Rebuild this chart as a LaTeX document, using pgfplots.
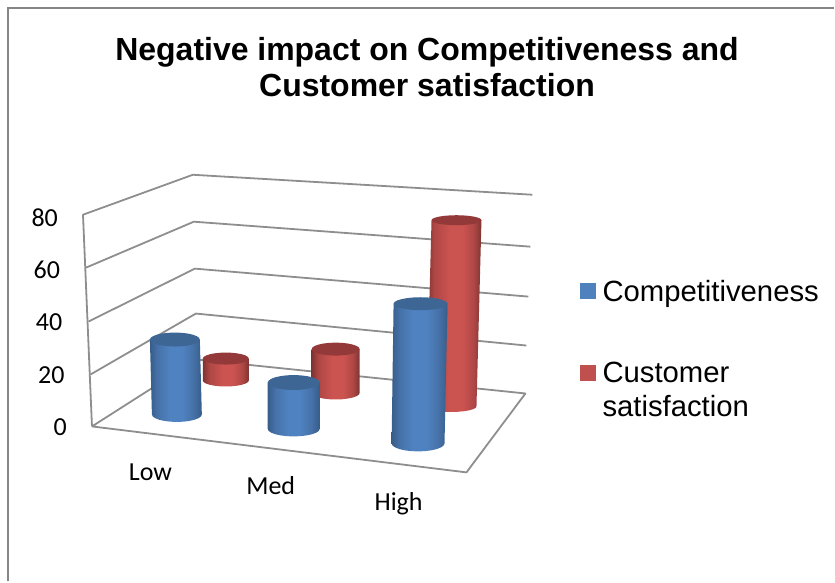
\documentclass[border=0pt]{standalone}
\usepackage{fontspec}
\usepackage{pgfplots}
\usepackage{pgfplotstable}
\pgfplotsset{compat=1.18}
\setmainfont{Liberation Sans}
\newfontfamily\calibri{Carlito}

\definecolor{frameGray}{HTML}{868686}
\definecolor{wallGray}{HTML}{8E8E8E}
\definecolor{blueEdge}{HTML}{375D88}
\definecolor{blueMid}{HTML}{4671A8}
\definecolor{blueLight}{HTML}{4F82C0}
\definecolor{blueCap}{HTML}{3E6695}
\definecolor{blueKey}{HTML}{4F81BD}
\definecolor{redEdge}{HTML}{7E3432}
\definecolor{redMid}{HTML}{AE4745}
\definecolor{redLight}{HTML}{CB5350}
\definecolor{redCap}{HTML}{93393A}
\definecolor{redKey}{HTML}{C0504D}

\pgfdeclarehorizontalshading{blueCylinder}{100bp}{color(0bp)=(blueEdge); color(25bp)=(blueEdge); color(32bp)=(blueMid); color(44bp)=(blueLight); color(56bp)=(blueLight); color(67bp)=(blueMid); color(75bp)=(blueEdge); color(100bp)=(blueEdge)}
\pgfdeclarehorizontalshading{redCylinder}{100bp}{color(0bp)=(redEdge); color(25bp)=(redEdge); color(32bp)=(redMid); color(46bp)=(redLight); color(58bp)=(redLight); color(68bp)=(redMid); color(75bp)=(redEdge); color(100bp)=(redEdge)}

% Cylinder side: lower half of the base ellipse, closed along the top rim.
% u, v are points on the unit ellipse, w is 0 at the base and 1 at the top.
\pgfplotstableread{
u v w
-1 0 1
-1 0 0
-0.966 -0.259 0
-0.866 -0.5 0
-0.707 -0.707 0
-0.5 -0.866 0
-0.259 -0.966 0
0 -1 0
0.259 -0.966 0
0.5 -0.866 0
0.707 -0.707 0
0.866 -0.5 0
0.966 -0.259 0
1 0 0
1 0 1
}\sideoutline

% Cylinder top: the complete unit ellipse.
\pgfplotstableread{
u v
1 0
0.966 0.259
0.866 0.5
0.707 0.707
0.5 0.866
0.259 0.966
0 1
-0.259 0.966
-0.5 0.866
-0.707 0.707
-0.866 0.5
-0.966 0.259
-1 0
-0.966 -0.259
-0.866 -0.5
-0.707 -0.707
-0.5 -0.866
-0.259 -0.966
0 -1
0.259 -0.966
0.5 -0.866
0.707 -0.707
0.866 -0.5
0.966 -0.259
}\capoutline

% Vertical position on the page grid to value units of the left wall edge.
\newcommand\Y[1]{(427-(#1))/2.625}

% #1 value, #2 page units per value at this depth, #3 base x, #4 base y, #5 top x,
% #6 base x radius, #7 top x radius, #8 base y radius, #9 top y radius,
% followed by the shading and the cap colour
\newcommand\cylinder[9]{\def\cylfinal##1##2{%
  \addplot[draw=none, shade, shading=##1] table[
    x expr={(1-\thisrow{w})*(#3+\thisrow{u}*#6)+\thisrow{w}*(#5+\thisrow{u}*#7)},
    y expr={\Y{#4-\thisrow{w}*#1*#2-\thisrow{v}*#8}}] {\sideoutline} -- cycle;
  \addplot[draw=none, fill=##2] table[
    x expr={#5+\thisrow{u}*#7},
    y expr={\Y{#4-#1*#2-\thisrow{v}*#9}}] {\capoutline} -- cycle;
}\cylfinal}

% Wall and floor rules, given as x and page y
\newcommand\wallrule[1]{\addplot[wallGray, line width=1.8pt, line join=round] table[row sep=\\, x=x, y expr={\Y{\thisrow{p}}}] {x p\\ #1};}

\begin{document}
\begin{tikzpicture}
\begin{axis}[
  scale only axis, width=835pt, height=582pt,
  xmin=0, xmax=835, ymin=-59.048, ymax=162.667,
  clip=false,
  axis line style={draw=none},
  xtick=\empty,
  ytick={0,20,40,60,80},
  major tick length=0pt,
  /pgf/number format/assume math mode=true,
  yticklabel style={font=\calibri\fontsize{26}{26}\selectfont, anchor=east, inner sep=0pt,
    xshift={(67-2.25*\ticknum)*1pt}, yshift=-1pt},
]
% chart frame
\addplot[frameGray, line width=2pt] table[row sep=\\, x=x, y expr={\Y{\thisrow{p}}}] {x p\\ 7.5 582\\ 7.5 8.5\\ 835 8.5\\};

% side wall, back wall and floor
\wallrule{92 427\\ 83 215\\ 193 175\\ 533 195\\}
\wallrule{86 268\\ 194 222\\ 531 247\\}
\wallrule{88.5 322\\ 195 269\\ 529 297\\}
\wallrule{90.5 375\\ 196 314\\ 527 346\\}
\wallrule{92 427\\ 197 360\\ 526 394\\ 467 473\\ 92 427\\}

% Customer satisfaction, back row
\cylinder{9}{2.44}{226}{381}{226}{23}{23}{6}{6}{redCylinder}{redCap}
\cylinder{18}{2.44}{336}{393.5}{336}{24}{24}{6.5}{6.5}{redCylinder}{redCap}
\cylinder{76}{2.454}{452}{407}{457}{25}{25}{5.5}{5}{redCylinder}{redCap}

% Competitiveness, front row
\cylinder{30}{2.5}{177}{415}{175}{25}{25}{7.5}{7}{blueCylinder}{blueCap}
\cylinder{18}{2.58}{294}{429.5}{294}{26}{26}{7.5}{7.5}{blueCylinder}{blueCap}
\cylinder{54}{2.59}{418.5}{444}{421}{26.5}{27}{8}{6.5}{blueCylinder}{blueCap}

% title
\node[font=\bfseries\fontsize{32}{32}\selectfont, anchor=base] at (axis cs:427.5,{\Y{61}})
  {Negative impact on Competitiveness and};
\node[font=\bfseries\fontsize{32}{32}\selectfont, anchor=base] at (axis cs:427.5,{\Y{97}})
  {Customer satisfaction};

% category names along the front edge
\node[font=\calibri\fontsize{26}{26}\selectfont, anchor=base] at (axis cs:150.5,{\Y{481}}) {Low};
\node[font=\calibri\fontsize{26}{26}\selectfont, anchor=base] at (axis cs:271,{\Y{495}}) {Med};
\node[font=\calibri\fontsize{26}{26}\selectfont, anchor=base] at (axis cs:399,{\Y{511}}) {High};

% key
\addplot[only marks, color=blueKey, mark=square*, mark size=7.5pt]
  coordinates {(588.5,51.81)};
\addplot[only marks, color=redKey, mark=square*, mark size=7.5pt]
  coordinates {(588.5,20.57)};
\node[font=\fontsize{29.3}{34}\selectfont, anchor=base west, inner sep=0pt] at (axis cs:603,{\Y{301.5}}) {Competitiveness};
\node[font=\fontsize{29.3}{34}\selectfont, anchor=base west, inner sep=0pt] at (axis cs:603,{\Y{383}}) {Customer};
\node[font=\fontsize{29.3}{34}\selectfont, anchor=base west, inner sep=0pt] at (axis cs:603,{\Y{417}}) {satisfaction};
\end{axis}
\end{tikzpicture}
\end{document}
